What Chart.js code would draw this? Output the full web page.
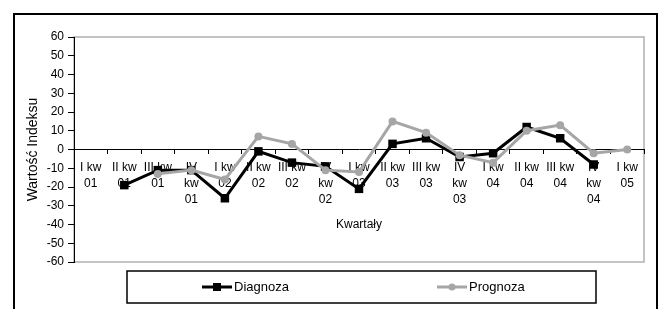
<!DOCTYPE html>
<html>
<head>
<meta charset="utf-8">
<script src="https://cdn.jsdelivr.net/npm/chart.js@4/dist/chart.umd.min.js"></script>
<style>
  html, body { margin: 0; padding: 0; background: #fff; }
  #wrap { width: 664px; height: 309px; position: relative; }
</style>
</head>
<body>
<div id="wrap"><canvas id="c" width="664" height="309"></canvas></div>
<script>
const categories = [
  ["I kw", "01"], ["II kw", "01"], ["III kw", "01"], ["IV", "kw", "01"],
  ["I kw", "02"], ["II kw", "02"], ["III kw", "02"], ["IV", "kw", "02"],
  ["I kw", "03"], ["II kw", "03"], ["III kw", "03"], ["IV", "kw", "03"],
  ["I kw", "04"], ["II kw", "04"], ["III kw", "04"], ["IV", "kw", "04"],
  ["I kw", "05"]
];
const diagnoza = [null, -19, -11, -11, -26, -1, -7, -9, -21, 3, 6, -4, -2, 12, 6, -8, null];
const prognoza = [null, null, -13, -11, -16, 7, 3, -11, -12, 15, 9, -3, -7, 10, 13, -2, 0];
const yTicks = [-60, -50, -40, -30, -20, -10, 0, 10, 20, 30, 40, 50, 60];
const seriesNames = ["Diagnoza", "Prognoza"];
const xTitle = "Kwartały";
const yTitle = "Wartość Indeksu";

const BLACK = "#000000";
const GRAY = "#a6a6a6";
const FONT = "'Liberation Sans', Arial, sans-serif";

const framePlugin = {
  id: "frame",
  beforeDraw(chart) {
    const ctx = chart.ctx;
    const a = chart.chartArea;
    ctx.save();
    ctx.strokeStyle = "#000";
    ctx.lineWidth = 2;
    ctx.beginPath();
    ctx.moveTo(14, 320);
    ctx.lineTo(14, 14);
    ctx.lineTo(657, 14);
    ctx.lineTo(657, 320);
    ctx.stroke();
    ctx.strokeStyle = "#b0b0b0";
    ctx.lineWidth = 1.5;
    ctx.strokeRect(a.left, a.top, a.right - a.left, a.bottom - a.top);
    ctx.restore();
  },
  afterDraw(chart) {
    const ctx = chart.ctx;
    const a = chart.chartArea;
    ctx.save();
    const bx = a.left + 53, by = a.bottom + 9, bw = 469, bh = 32;
    ctx.strokeStyle = "#000";
    ctx.lineWidth = 1.5;
    ctx.strokeRect(bx, by, bw, bh);
    const cy = by + bh / 2;
    const items = [
      { x: bx + 75, label: chart.data.datasets[0].label, color: BLACK, style: "rect" },
      { x: bx + 310, label: chart.data.datasets[1].label, color: GRAY, style: "circle" }
    ];
    ctx.font = "13px " + FONT;
    ctx.textBaseline = "middle";
    ctx.textAlign = "left";
    items.forEach(it => {
      ctx.strokeStyle = it.color;
      ctx.lineWidth = 3;
      ctx.beginPath();
      ctx.moveTo(it.x, cy);
      ctx.lineTo(it.x + 30, cy);
      ctx.stroke();
      ctx.fillStyle = it.color;
      if (it.style === "rect") {
        ctx.fillRect(it.x + 11, cy - 4, 8, 8);
      } else {
        ctx.beginPath();
        ctx.arc(it.x + 15, cy, 3.5, 0, Math.PI * 2);
        ctx.fill();
      }
      ctx.fillStyle = "#000";
      ctx.fillText(it.label, it.x + 32, cy + 0.5);
    });
    ctx.restore();
  }
};

new Chart(document.getElementById("c"), {
  type: "line",
  data: {
    labels: categories,
    datasets: [
      {
        label: seriesNames[0],
        data: diagnoza,
        borderColor: BLACK,
        backgroundColor: BLACK,
        borderWidth: 3,
        pointStyle: "rect",
        pointRadius: 6,
        pointBorderWidth: 0,
        pointBackgroundColor: BLACK,
        tension: 0,
        order: 2
      },
      {
        label: seriesNames[1],
        data: prognoza,
        borderColor: GRAY,
        backgroundColor: GRAY,
        borderWidth: 3,
        pointStyle: "circle",
        pointRadius: 4,
        pointBorderWidth: 0,
        pointBackgroundColor: GRAY,
        tension: 0,
        order: 1
      }
    ]
  },
  options: {
    responsive: false,
    devicePixelRatio: 1,
    animation: false,
    layout: { padding: { left: 20, right: 20, top: 37, bottom: 47 } },
    plugins: {
      legend: { display: false },
      tooltip: { enabled: false }
    },
    scales: {
      x: {
        type: "category",
        position: { y: 0 },
        offset: true,
        grid: {
          offset: true,
          drawOnChartArea: false,
          drawTicks: true,
          tickLength: 4,
          color: "#000"
        },
        border: { display: true, color: "#000", width: 1 },
        ticks: {
          autoSkip: false,
          maxRotation: 0,
          minRotation: 0,
          padding: 6,
          color: "#000",
          font: { family: FONT, size: 12, lineHeight: 16 / 12 }
        },
        title: {
          display: true,
          text: xTitle,
          color: "#000",
          font: { family: FONT, size: 12 },
          padding: { top: 4, bottom: 0 }
        }
      },
      y: {
        min: -60,
        max: 60,
        afterBuildTicks(scale) {
          scale.ticks = yTicks.map(v => ({ value: v }));
        },
        afterFit(scale) { scale.width = 54; },
        grid: {
          drawOnChartArea: false,
          drawTicks: true,
          tickLength: 6,
          color: "#000"
        },
        border: { display: true, color: "#000", width: 1 },
        ticks: {
          padding: 4,
          color: "#000",
          font: { family: FONT, size: 12 }
        },
        title: {
          display: true,
          text: yTitle,
          color: "#000",
          font: { family: FONT, size: 14 },
          padding: { top: 5, bottom: 0 }
        }
      }
    }
  },
  plugins: [framePlugin]
});
</script>
</body>
</html>
